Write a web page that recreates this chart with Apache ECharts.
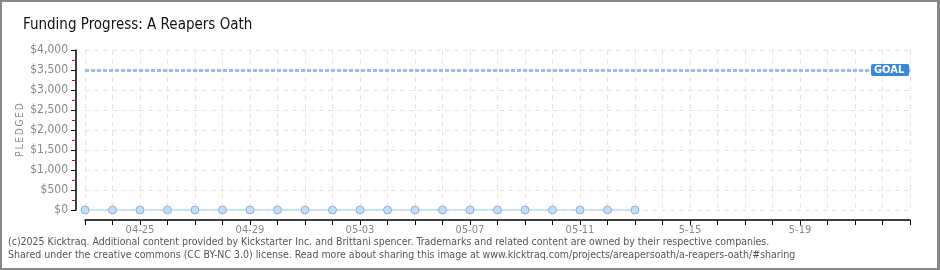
<!DOCTYPE html>
<html>
<head>
<meta charset="utf-8">
<script src="https://cdn.jsdelivr.net/npm/echarts@6/dist/echarts.min.js"></script>
<style>
html,body{margin:0;padding:0;background:#fff;}
#frame{position:absolute;left:0;top:0;width:940px;height:270px;box-sizing:border-box;border:2px solid #888;border-right-width:3px;}
#chart{position:absolute;left:0;top:0;width:940px;height:270px;}
</style>
</head>
<body>
<div id="chart"></div>
<div id="frame"></div>
<script>
// Data
var categories = ['04-23','04-24','04-25','04-26','04-27','04-28','04-29','04-30','05-01','05-02','05-03','05-04','05-05','05-06','05-07','05-08','05-09','05-10','05-11','05-12','05-13','05-14','05-15','05-16','05-17','05-18','05-19','05-20','05-21','05-22','05-23'];
var tickLabels = ['','','04-25','','','','04-29','','','','05-03','','','','05-07','','','','05-11','','','','5-15','','','','5-19','','','',''];
var pledged = [0,0,0,0,0,0,0,0,0,0,0,0,0,0,0,0,0,0,0,0,0];
var goal = 3500;

var chart = echarts.init(document.getElementById('chart'));
var font = '"DejaVu Sans Condensed","Liberation Sans Narrow",sans-serif';
chart.setOption({
  animation:false,
  title:{text:'Funding Progress: A Reapers Oath',left:18,top:13,textStyle:{fontFamily:font,fontSize:15,fontWeight:'normal',color:'#111'}},
  grid:{left:85,right:30,top:50,bottom:60},
  xAxis:{
    type:'category',data:categories,boundaryGap:false,offset:10,
    axisLine:{onZero:false,lineStyle:{color:'#000',width:1.5}},
    axisTick:{show:true,interval:0,length:5,inside:false,lineStyle:{color:'#000'}},
    axisLabel:{interval:0,color:'#888',fontFamily:font,fontSize:11,margin:5,formatter:function(v,i){return tickLabels[i];}},
    splitLine:{show:true,interval:0,lineStyle:{color:'#e4e4e4',type:[5,4]}}
  },
  yAxis:{
    type:'value',min:0,max:4000,interval:500,offset:9,
    name:'P\u2009L\u2009E\u2009D\u2009G\u2009E\u2009D',nameLocation:'middle',nameGap:51,nameRotate:90,nameMoveOverlap:false,
    nameTextStyle:{color:'#888',fontFamily:font,fontSize:10},
    axisLine:{show:true,lineStyle:{color:'#000',width:1.5}},
    axisTick:{show:true,length:5,lineStyle:{color:'#000'}},
    minorTick:{show:true,splitNumber:2,length:4,lineStyle:{color:'#e00'}},
    axisLabel:{color:'#888',fontFamily:font,fontSize:12,margin:8,formatter:function(v){return '$'+v.toLocaleString('en-US');}},
    splitLine:{show:true,lineStyle:{color:'#e4e4e4',type:[5,4]}}
  },
  series:[{
    type:'line',data:pledged,symbol:'circle',symbolSize:8,
    lineStyle:{color:'#b8d6f4',width:1.5},
    itemStyle:{color:'#c6dcf6',borderColor:'#93afd3',borderWidth:1},
    markLine:{
      silent:true,symbol:'none',
      lineStyle:{color:'#9dbde4',type:[4,2],width:3},
      label:{show:true,position:'end',formatter:'GOAL',color:'#fff',backgroundColor:'#3a87d8',borderRadius:2,padding:[1,5,0,3],fontFamily:font,fontSize:11,fontWeight:'bold',offset:[-44,0]},
      data:[{yAxis:goal}]
    }
  }],
  graphic:[
    {type:'text',left:8,top:237,style:{text:'(c)2025 Kicktraq. Additional content provided by Kickstarter Inc. and Brittani spencer. Trademarks and related content are owned by their respective companies.',fill:'#555',font:'10.5px '+font}},
    {type:'text',left:8,top:250,style:{text:'Shared under the creative commons (CC BY-NC 3.0) license. Read more about sharing this image at www.kicktraq.com/projects/areapersoath/a-reapers-oath/#sharing',fill:'#555',font:'10.5px '+font}}
  ]
});
</script>
</body>
</html>
